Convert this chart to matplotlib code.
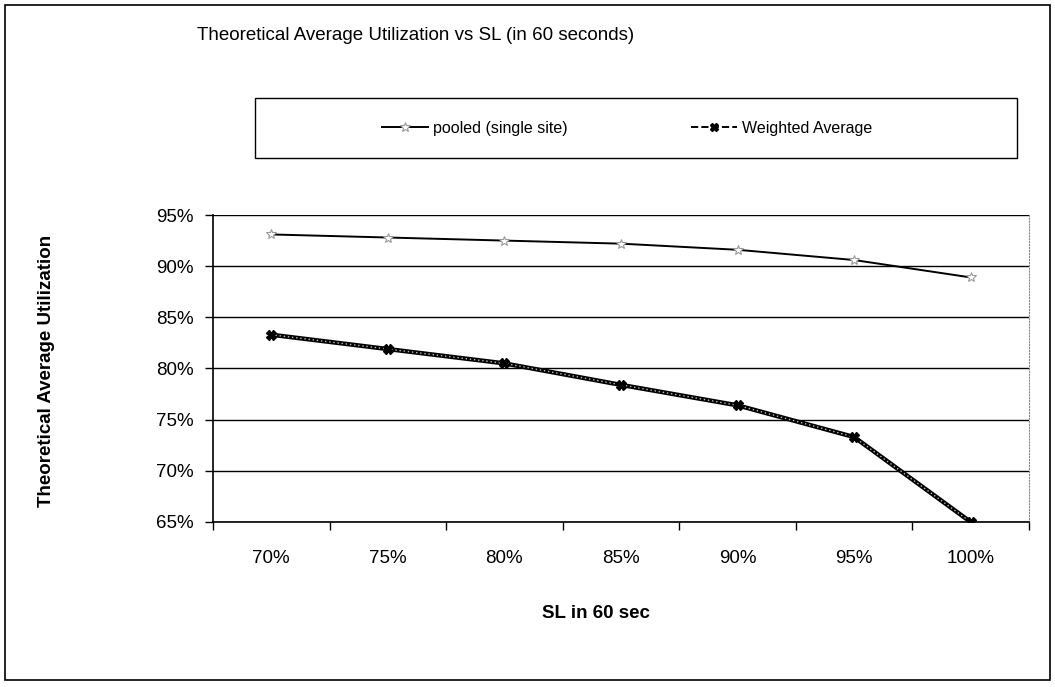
import matplotlib.pyplot as plt
from matplotlib.lines import Line2D
from matplotlib.patches import Rectangle

# data
sl_labels = ['70%', '75%', '80%', '85%', '90%', '95%', '100%']
pooled = [93.1, 92.8, 92.5, 92.2, 91.6, 90.6, 88.9]
weighted = [83.3, 81.9, 80.5, 78.4, 76.4, 73.3, 65.0]
y_ticks = [65, 70, 75, 80, 85, 90, 95]

plt.rcParams['font.family'] = ['Liberation Sans', 'DejaVu Sans']
plt.rcParams['font.size'] = 13.5

fig = plt.figure(figsize=(10.55, 6.87), dpi=100)
ax = fig.add_axes([213 / 1055, 1 - 522 / 687, 816 / 1055, 307 / 687])

x = list(range(len(sl_labels)))

# horizontal gridlines
for v in y_ticks:
    ax.axhline(v, color='black', lw=1.0, zorder=1)

ax.plot(x, pooled, color='black', lw=1.4, marker='*', ms=7,
        mfc='white', mec='#999999', mew=0.8, zorder=3)
ax.plot(x, weighted, color='black', lw=3.2, zorder=3)
ax.plot(x, weighted, color='#bbbbbb', lw=1.0, ls=(0, (1, 2)), zorder=4)
ax.plot(x, weighted, ls='none', marker='X', ms=7, color='black', zorder=5)

ax.set_xlim(-0.5, len(sl_labels) - 0.5)
ax.set_ylim(65, 95)
ax.set_yticks(y_ticks)
ax.set_yticklabels([f'{v}%' for v in y_ticks])
ax.set_xticks(x)
ax.set_xticklabels(sl_labels)
ax.set_xticks([i + 0.5 for i in range(-1, len(sl_labels))], minor=True)
ax.tick_params(axis='x', which='major', length=0, pad=20)
ax.tick_params(axis='x', which='minor', length=6, direction='out', width=1)
ax.tick_params(axis='y', length=6, direction='out', width=1, pad=8)

ax.spines['top'].set_visible(False)
ax.spines['right'].set_color('#888888')
ax.spines['right'].set_linestyle(':')
ax.spines['left'].set_linewidth(1.2)
ax.spines['bottom'].set_linewidth(1.2)

fig.text(197 / 1055, 1 - 36 / 687, 'Theoretical Average Utilization vs SL (in 60 seconds)',
         ha='left', va='center', fontsize=13.5)
fig.text(596 / 1055, 1 - 613 / 687, 'SL in 60 sec', ha='center', va='center',
         fontsize=13.5, fontweight='bold')
fig.text(47 / 1055, 1 - 371 / 687, 'Theoretical Average Utilization', ha='center',
         va='center', rotation=90, fontsize=13.5, fontweight='bold')

# legend box
fig.patches.append(Rectangle((255 / 1055, 1 - 158 / 687), 762 / 1055, 60 / 687,
                             transform=fig.transFigure, fill=False,
                             edgecolor='black', lw=1.0))
h1 = Line2D([], [], color='black', lw=1.4, marker='*', ms=7, mfc='white',
            mec='#999999', mew=0.8)
h2 = Line2D([], [], color='black', lw=1.4, ls='--', marker='X', ms=6)
fig.legend([h1, h2], ['pooled (single site)', 'Weighted Average'],
           loc='center', bbox_to_anchor=(627 / 1055, 1 - 128 / 687), ncol=2,
           frameon=False, columnspacing=7.7, handlelength=2.9, handletextpad=0.3,
           fontsize=11.5)

# outer border
fig.patches.append(Rectangle((5 / 1055, 7 / 687), 1045 / 1055, 675 / 687,
                             transform=fig.transFigure, fill=False,
                             edgecolor='black', lw=1.2))

fig.savefig('out.png', dpi=100)
